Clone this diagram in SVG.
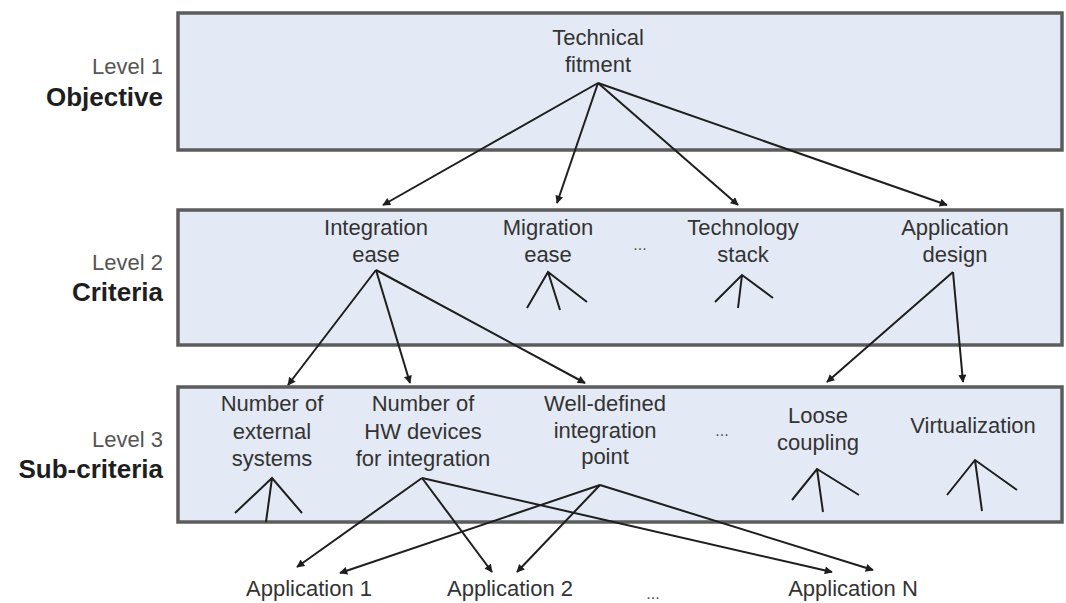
<svg xmlns="http://www.w3.org/2000/svg" width="1066" height="603" viewBox="0 0 1066 603">
<style>
.box{fill:#e4eaf5;stroke:#5c5c5c;stroke-width:3.5}
.t{font-family:"Liberation Sans",Arial,sans-serif;font-size:22px;fill:#333;text-anchor:middle}
.lv{font-family:"Liberation Sans",Arial,sans-serif;font-size:22px;fill:#555;text-anchor:end}
.lb{font-family:"Liberation Sans",Arial,sans-serif;font-size:26px;font-weight:bold;fill:#1e1e1e;text-anchor:end}
.dots{font-family:"Liberation Sans",Arial,sans-serif;font-size:16px;fill:#555;text-anchor:middle}
.c{stroke:#1e1e1e;stroke-width:2;fill:none}
.a{marker-end:url(#ah)}
</style>
<defs>
<marker id="ah" viewBox="0 0 10 10" refX="9" refY="5" markerWidth="9" markerHeight="8" markerUnits="userSpaceOnUse" orient="auto">
<path d="M0,0 L10,5 L0,10 z" fill="#1e1e1e"/>
</marker>
</defs>
<g id="level-labels">
<text class="lv" x="163" y="74">Level 1</text>
<text class="lb" x="163" y="106">Objective</text>
<text class="lv" x="163" y="270">Level 2</text>
<text class="lb" x="163" y="301">Criteria</text>
<text class="lv" x="163" y="447">Level 3</text>
<text class="lb" x="163" y="478">Sub-criteria</text>
</g>
<g id="level1-box"><rect class="box" x="178" y="13" width="884" height="137"/></g>
<g id="level2-box"><rect class="box" x="178" y="210" width="884" height="135"/></g>
<g id="level3-box"><rect class="box" x="178" y="387" width="884" height="135"/></g>
<g id="technical-fitment">
<text class="t" x="598" y="45">Technical</text>
<text class="t" x="598" y="72">fitment</text>
</g>
<g id="integration-ease">
<text class="t" x="376" y="235">Integration</text>
<text class="t" x="376" y="262">ease</text>
</g>
<g id="migration-ease">
<text class="t" x="548" y="235">Migration</text>
<text class="t" x="548" y="262">ease</text>
</g>
<g id="criteria-more"><text class="dots" x="640" y="250">...</text></g>
<g id="technology-stack">
<text class="t" x="743" y="235">Technology</text>
<text class="t" x="743" y="262">stack</text>
</g>
<g id="application-design">
<text class="t" x="955" y="235">Application</text>
<text class="t" x="955" y="262">design</text>
</g>
<g id="number-external-systems">
<text class="t" x="272" y="411">Number of</text>
<text class="t" x="272" y="439">external</text>
<text class="t" x="272" y="466">systems</text>
</g>
<g id="number-hw-devices">
<text class="t" x="423" y="411">Number of</text>
<text class="t" x="423" y="439">HW devices</text>
<text class="t" x="423" y="466">for integration</text>
</g>
<g id="well-defined-integration-point">
<text class="t" x="605" y="411">Well-defined</text>
<text class="t" x="605" y="438">integration</text>
<text class="t" x="605" y="464">point</text>
</g>
<g id="subcriteria-more"><text class="dots" x="722" y="436">...</text></g>
<g id="loose-coupling">
<text class="t" x="818" y="423">Loose</text>
<text class="t" x="818" y="450">coupling</text>
</g>
<g id="virtualization"><text class="t" x="973" y="433">Virtualization</text></g>
<g id="application-1"><text class="t" x="309" y="596">Application 1</text></g>
<g id="application-2"><text class="t" x="510" y="596">Application 2</text></g>
<g id="applications-more"><text class="dots" x="653" y="599">...</text></g>
<g id="application-n"><text class="t" x="853" y="596">Application N</text></g>
<g id="connectors">
<path class="c a" d="M598,83 L383,205"/>
<path class="c a" d="M598,83 L557,203"/>
<path class="c a" d="M598,83 L738,205"/>
<path class="c a" d="M598,83 L947,205"/>
<path class="c a" d="M376,270 L288,385"/>
<path class="c a" d="M376,270 L410,383"/>
<path class="c a" d="M376,270 L585,383"/>
<path class="c a" d="M953,272 L827,382"/>
<path class="c a" d="M953,272 L963,382"/>
<path class="c" d="M527,308 L548,272 L587,302 M548,272 L560,310"/>
<path class="c" d="M715,302 L742,275 L773,298 M742,275 L738,308"/>
<path class="c" d="M235,513 L272,478 L302,513 M272,478 L266,522"/>
<path class="c" d="M792,500 L817,469 L859,495 M817,469 L823,512"/>
<path class="c" d="M947,495 L975,460 L1017,490 M975,460 L982,511"/>
<path class="c a" d="M422,478 L297,567"/>
<path class="c a" d="M422,478 L492,572"/>
<path class="c a" d="M422,478 L832,572"/>
<path class="c a" d="M600,485 L340,573"/>
<path class="c a" d="M600,485 L517,572"/>
<path class="c a" d="M600,485 L873,570"/>
</g>
</svg>
